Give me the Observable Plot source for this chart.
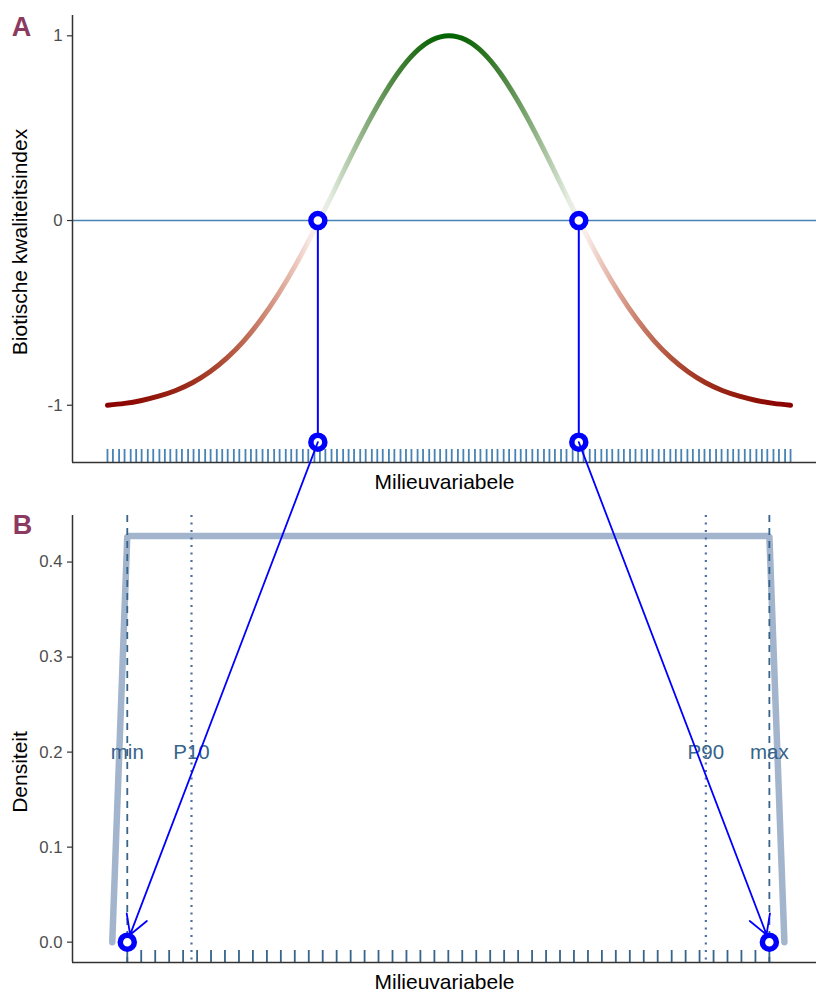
<!DOCTYPE html>
<html><head><meta charset="utf-8">
<script src="https://cdn.jsdelivr.net/npm/d3@7"></script>
<script src="https://cdn.jsdelivr.net/npm/@observablehq/plot@0.6"></script>
<style>body{margin:0;background:#fff} #chart{position:relative;width:816px;height:992px} #chart svg{display:block}</style>
</head><body><div id="chart"></div>
<script>
// ---- Panel A data: biotic quality index response curve
const curveX = [0,0.025,0.05,0.075,0.1,0.125,0.15,0.175,0.2,0.225,0.25,0.275,0.3,0.325,0.35,0.375,0.4,0.425,0.45,0.475,0.5,
  0.525,0.55,0.575,0.6,0.625,0.65,0.675,0.7,0.725,0.75,0.775,0.8,0.825,0.85,0.875,0.9,0.925,0.95,0.975,1];
const curveY = [-1.000,-0.990,-0.974,-0.951,-0.920,-0.877,-0.819,-0.744,-0.650,-0.535,-0.399,-0.244,-0.071,0.112,0.301,0.484,0.652,0.797,0.908,0.977,1.000,
  0.977,0.908,0.797,0.652,0.484,0.301,0.112,-0.071,-0.244,-0.399,-0.535,-0.650,-0.744,-0.819,-0.877,-0.920,-0.951,-0.974,-0.990,-1.000];
const thresholdX = [0.308, 0.69];
const thresholdY = 0;
const projectY = -1.2;
const rugTop = [0,.008,.017,.025,.034,.042,.050,.059,.067,.076,.084,.092,.101,.109,.118,.126,.134,.143,.151,.160,.168,.176,.185,.193,.202,.210,.218,.227,.235,.244,
  .252,.261,.269,.277,.286,.294,.303,.311,.319,.328,.336,.345,.353,.361,.370,.378,.387,.395,.403,.412,.420,.429,.437,.445,.454,.462,.471,.479,.487,.496,
  .504,.513,.521,.529,.538,.546,.555,.563,.571,.580,.588,.597,.605,.613,.622,.630,.639,.647,.655,.664,.672,.681,.689,.697,.706,.714,.723,.731,.739,.748,
  .756,.765,.773,.782,.790,.798,.807,.815,.824,.832,.840,.849,.857,.866,.874,.882,.891,.899,.908,.916,.924,.933,.941,.950,.958,.966,.975,.983,.992,1];
const yTicksA = [-1, 0, 1];

// ---- Panel B data: density of the environmental variable
const rugBottom = [.029,.0494,.0699,.0903,.1107,.1312,.1516,.1720,.1925,.2129,.2334,.2538,.2742,.2947,.3151,.3355,.3560,.3764,.3968,.4173,
  .4377,.4581,.4786,.4990,.5194,.5399,.5603,.5807,.6012,.6216,.6421,.6625,.6829,.7034,.7238,.7442,.7647,.7851,.8055,.8260,
  .8464,.8668,.8873,.9077,.9281,.9486,.969];
const densX = [0.007, 0.029, 0.969, 0.991];
const densY = [0, 0.4275, 0.4275, 0];
const refNames = ["min", "P10", "P90", "max"];
const refX = [0.029, 0.123, 0.876, 0.969];
const refDashed = [true, false, false, true];
const refLabelY = 0.2;
const endX = [0.029, 0.969];
const endY = 0;
const yTicksB = [0, 0.1, 0.2, 0.3, 0.4];

// ---- layout
const W = 816, HA = 500, HB = 492;
const mA = {top: 15, bottom: 38}, mB = {top: 15, bottom: 30};
const xDom = [-0.0512, 1.038];
const yDomA = [-1.31, 1.11];
const yDomB = [-0.0214, 0.449];
const font = "'Liberation Sans', Arial, Helvetica, sans-serif";
const blue = "#0000FF", steel = "#4682B4", steel4 = "#36648B", densCol = "#A2B5CD";
const panelCol = "#8B3A62";

const colorScale = Plot.scale({color: {type: "linear", domain: [-1, 0, 1], range: ["#8B0000", "#FFFFFF", "#006400"], interpolate: d3.interpolateLab}});
const xScale = Plot.scale({x: {domain: xDom, range: [72, W]}});

const curve = curveX.map((x, i) => ({x, y: curveY[i]}));
const thr = thresholdX.map(x => ({x}));

const gradientMark = () => {
  const defs = d3.create("svg:defs");
  const g = defs.append("linearGradient").attr("id", "bioGrad")
    .attr("gradientUnits", "userSpaceOnUse")
    .attr("x1", xScale.apply(0)).attr("x2", xScale.apply(1)).attr("y1", 0).attr("y2", 0);
  curve.forEach(d => g.append("stop").attr("offset", d.x).attr("stop-color", colorScale.apply(d.y)));
  return defs.node();
};

const plotA = Plot.plot({
  width: W, height: HA, marginLeft: 72, marginRight: 0, marginTop: mA.top, marginBottom: mA.bottom,
  style: {fontFamily: font, background: "white"},
  x: {domain: xDom, axis: null},
  y: {domain: yDomA},
  marks: [
    gradientMark,
    Plot.axisY({ticks: yTicksA, tickFormat: d => String(d), tickSize: 5, tickPadding: 5, fontSize: 16.8, fill: "#4D4D4D", stroke: "#333", strokeWidth: 1.2, label: null}),
    Plot.ruleY([thresholdY], {stroke: steel, strokeWidth: 1.5}),
    Plot.ruleX(rugTop, {x: d => d, stroke: steel, strokeWidth: 1.8, insetTop: (HA - mA.top - mA.bottom) - 13}),
    Plot.line(curve, {x: "x", y: "y", stroke: "url(#bioGrad)", strokeWidth: 5, curve: "natural"}),
    Plot.ruleX(thr, {x: "x", y1: thresholdY, y2: projectY, stroke: blue, strokeWidth: 2}),
    Plot.dot(thr, {x: "x", y: thresholdY, r: 7, stroke: blue, strokeWidth: 5.5, fill: "white"}),
    Plot.dot(thr, {x: "x", y: projectY, r: 7, stroke: blue, strokeWidth: 5.5, fill: "white"}),
    Plot.ruleX([xDom[0]], {stroke: "#333", strokeWidth: 1.5}),
    Plot.ruleY([yDomA[0]], {stroke: "#333", strokeWidth: 1.5}),
    Plot.text(["Biotische kwaliteitsindex"], {frameAnchor: "left", rotate: -90, dx: -52, dy: 3, fontSize: 21, fill: "black", textAnchor: "middle", lineAnchor: "middle"}),
    Plot.text(["Milieuvariabele"], {frameAnchor: "bottom", dy: 20, fontSize: 21, fill: "black", textAnchor: "middle", lineAnchor: "middle"}),
    Plot.text(["A"], {frameAnchor: "top-left", dx: -51, dy: 12, fontSize: 27, fontWeight: "bold", fill: panelCol, textAnchor: "middle", lineAnchor: "middle"})
  ]
});

// arrow start: top panel projection point, converted into panel B coordinates via scales
const yA = Plot.scale({y: {domain: yDomA, range: [HA - mA.bottom, mA.top]}});
const yB = Plot.scale({y: {domain: yDomB, range: [HB - mB.bottom, mB.top]}});
const startValB = yB.invert(yA.apply(projectY) - HA);
const arrows = thresholdX.map((x, i) => ({x1: x, y1: startValB, x2: endX[i], y2: endY}));

const dens = densX.map((x, i) => ({x, y: densY[i]}));
const refs = refNames.map((name, i) => ({name, x: refX[i], dashed: refDashed[i]}));

const plotB = Plot.plot({
  width: W, height: HB, marginLeft: 72, marginRight: 0, marginTop: mB.top, marginBottom: mB.bottom,
  style: {fontFamily: font, background: "white", overflow: "visible"},
  x: {domain: xDom, axis: null},
  y: {domain: yDomB},
  marks: [
    Plot.axisY({ticks: yTicksB, tickFormat: d3.format(".1f"), tickSize: 5, tickPadding: 5, fontSize: 16.8, fill: "#4D4D4D", stroke: "#333", strokeWidth: 1.2, label: null}),
    Plot.ruleX(rugBottom, {x: d => d, stroke: steel4, strokeWidth: 1.8, insetTop: (HB - mB.top - mB.bottom) - 12}),
    Plot.line(dens, {x: "x", y: "y", stroke: densCol, strokeWidth: 6.5, strokeLinejoin: "miter"}),
    Plot.ruleX(refs.filter(d => d.dashed), {x: "x", stroke: steel4, strokeWidth: 1.8, strokeDasharray: "7,6"}),
    Plot.ruleX(refs.filter(d => !d.dashed), {x: "x", stroke: "#4A6FA0", strokeWidth: 2.2, strokeDasharray: "2,5.5"}),
    Plot.text(refs, {x: "x", y: refLabelY, text: "name", fontSize: 20.5, fill: steel4, textAnchor: "middle", lineAnchor: "middle"}),
    Plot.dot(endX.map(x => ({x})), {x: "x", y: endY, r: 7, stroke: blue, strokeWidth: 5.5, fill: "white"}),
    Plot.arrow(arrows, {x1: "x1", y1: "y1", x2: "x2", y2: "y2", stroke: blue, strokeWidth: 1.8, headLength: 18, headAngle: 60, insetEnd: 8}),
    Plot.ruleX([xDom[0]], {stroke: "#333", strokeWidth: 1.5}),
    Plot.ruleY([yDomB[0]], {stroke: "#333", strokeWidth: 1.5}),
    Plot.text(["Densiteit"], {frameAnchor: "left", rotate: -90, dx: -52, dy: 33, fontSize: 21, fill: "black", textAnchor: "middle", lineAnchor: "middle"}),
    Plot.text(["Milieuvariabele"], {frameAnchor: "bottom", dy: 20, fontSize: 21, fill: "black", textAnchor: "middle", lineAnchor: "middle"}),
    Plot.text(["B"], {frameAnchor: "top-left", dx: -50, dy: 10, fontSize: 27, fontWeight: "bold", fill: panelCol, textAnchor: "middle", lineAnchor: "middle"})
  ]
});

const chart = document.getElementById("chart");
chart.appendChild(plotA);
chart.appendChild(plotB);
</script>
</body></html>
